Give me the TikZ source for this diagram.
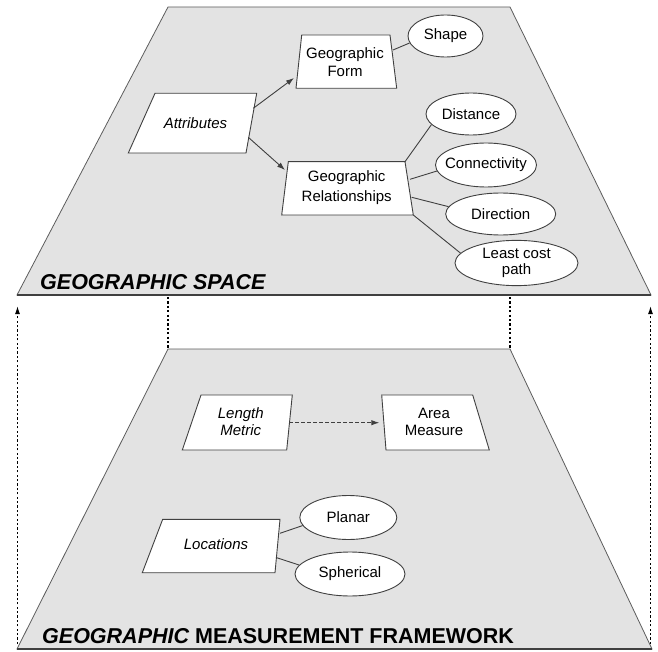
\documentclass[tikz,border=0pt]{standalone}
\usepackage{fontspec}
\setmainfont{Liberation Sans}
\usetikzlibrary{shapes.geometric,arrows.meta}
\pgfdeclarelayer{planes}
\pgfdeclarelayer{boxes}
\pgfsetlayers{planes,boxes,main}
\definecolor{planefill}{RGB}{227,227,227}
\definecolor{edgecol}{RGB}{64,64,64}
\newcommand\qbox[5]{\begin{pgfonlayer}{boxes}\draw[boxline] ([shift={#2}]#1.center) -- ([shift={#3}]#1.center) -- ([shift={#4}]#1.center) -- ([shift={#5}]#1.center) -- cycle;\end{pgfonlayer}}
\begin{document}
\begin{tikzpicture}[x=1pt,y=-1pt,
  txt/.style={inner sep=0pt, font=\fontsize{15}{18}\selectfont, align=center, text=black},
  itxt/.style={txt, font=\fontsize{15}{17}\selectfont\itshape},
  boxline/.style={draw=edgecol, line width=0.9pt, fill=white, line join=miter},
  ell/.style={ellipse, draw=edgecol, line width=0.9pt, fill=white, inner sep=0pt, font=\fontsize{15}{16}\selectfont},
  link/.style={draw=edgecol, line width=0.9pt},
  arr/.style={link, -{Latex[length=8pt,width=5.5pt]}},
  darr/.style={arr, dash pattern=on 3.5pt off 2.5pt},
  vdash/.style={draw=black, line width=1.2pt, dash pattern=on 2.2pt off 2.2pt},
  plane/.style={fill=planefill, draw=edgecol!85, line width=0.8pt},
  title/.style={anchor=base west, inner sep=0pt, font=\fontsize{21.5}{24}\selectfont\bfseries}
]
\useasboundingbox (0,0) rectangle (658,652);

% planes
\coordinate (tTL) at (168,7);
\coordinate (tTR) at (510,7);
\coordinate (tBR) at (651,295);
\coordinate (tBL) at (17,295);
\coordinate (bTL) at (168,349);
\coordinate (bTR) at (510,349);
\coordinate (bBR) at (652,649);
\coordinate (bBL) at (17,649);
\begin{pgfonlayer}{planes}
\path[plane] (tTL) -- (tTR) -- (tBR) -- (tBL) -- cycle;
\draw[draw=edgecol, line width=1.5pt] (tBL) -- (tBR);
\path[plane] (bTL) -- (bTR) -- (bBR) -- (bBL) -- cycle;
\draw[draw=edgecol, line width=1.5pt] (bBL) -- (bBR);
\end{pgfonlayer}

% projection lines
\coordinate (pL1) at (168,297);
\coordinate (pR1) at (510,297);
\draw[vdash] (pL1) -- (bTL);
\draw[vdash] (pR1) -- (bTR);
\coordinate (aLs) at (17.5,644);
\coordinate (aLe) at (17.5,306);
\coordinate (aRs) at (650.5,644);
\coordinate (aRe) at (650.5,306);
\draw[vdash, -{Latex[length=8pt,width=5pt]}] (aLs) -- (aLe);
\draw[vdash, -{Latex[length=8pt,width=5pt]}] (aRs) -- (aRe);

% titles
\node[title] (ts) at (40,289.5) {\itshape GEOGRAPHIC SPACE};
\node[title] (tm) at (42,643) {\itshape GEOGRAPHIC \upshape MEASUREMENT FRAMEWORK};

% top plane nodes
\node[itxt] (attr) at (195.5,123) {Attributes};
\node[txt] (gf) at (345,62.4) {Geographic\\Form};
\node[txt] (gr) at (346.7,188) {Geographic\\[2pt]Relationships};
\qbox{attr}{(-40.5,-29.7)}{(61.2,-29.7)}{(50.5,30)}{(-67.2,30)}
\qbox{gf}{(-43.3,-27.4)}{(45,-27.4)}{(51.7,25.9)}{(-49,25.9)}
\qbox{gr}{(-58.4,-26.3)}{(58.3,-26.3)}{(66.6,27)}{(-65,27)}

\node[ell, minimum width=75pt, minimum height=42pt] (shp) at (445.5,36) {\makebox[0pt]{Shape}};
\node[ell, minimum width=90pt, minimum height=42pt] (dist) at (471,114) {\makebox[0pt]{Distance}};
\node[ell, minimum width=101pt, minimum height=44pt] (conn) at (486,165) {\makebox[0pt]{Connectivity}};
\node[ell, minimum width=110pt, minimum height=42pt] (dir) at (500.7,214) {\makebox[0pt]{Direction}};
\node[ell, minimum width=123pt, minimum height=43pt] (lcp) at (516.5,263) {\makebox[0pt]{\begin{tabular}{@{}c@{}}Least cost\\path\end{tabular}}};

\draw[arr] ([shift={(57.8,-14.7)}]attr.center) -- ([shift={(-51,15.6)}]gf.center);
\draw[arr] ([shift={(52.8,14.3)}]attr.center) -- ([shift={(-61.7,-18)}]gr.center);
\draw[link] ([shift={(48,-12.4)}]gf.center) -- (shp.191.8);
\draw[link] ([shift={(58.3,-26.3)}]gr.center) -- (dist.195);
\draw[link] ([shift={(63.3,-8.7)}]gr.center) -- (conn.187);
\draw[link] ([shift={(65,9.3)}]gr.center) -- (dir.172);
\draw[link] ([shift={(66.6,27)}]gr.center) -- (lcp.170);

% bottom plane nodes
\node[itxt] (lm) at (240.8,421.7) {Length\\Metric};
\node[txt] (am) at (434,421.7) {Area\\[-1pt]Measure};
\node[itxt] (loc) at (216,544) {Locations};
\qbox{lm}{(-39.8,-26.7)}{(51.5,-26.7)}{(45.9,28.3)}{(-58.5,28.3)}
\qbox{am}{(-52.3,-26.7)}{(38.7,-26.7)}{(55.3,28.3)}{(-48,28.3)}
\qbox{loc}{(-53.3,-24.7)}{(64,-24.7)}{(59,28.7)}{(-73.7,28.7)}

\node[ell, minimum width=97pt, minimum height=44pt] (plan) at (348.3,517.5) {\makebox[0pt]{Planar}};
\node[ell, minimum width=110pt, minimum height=44pt] (sph) at (350,574) {\makebox[0pt]{Spherical}};

\draw[darr] ([shift={(48.5,1)}]lm.center) -- ([shift={(-54.7,1)}]am.center);
\draw[link] ([shift={(64,-10.7)}]loc.center) -- (plan.190);
\draw[link] ([shift={(60.7,13.7)}]loc.center) -- (sph.170);
\end{tikzpicture}
\end{document}
